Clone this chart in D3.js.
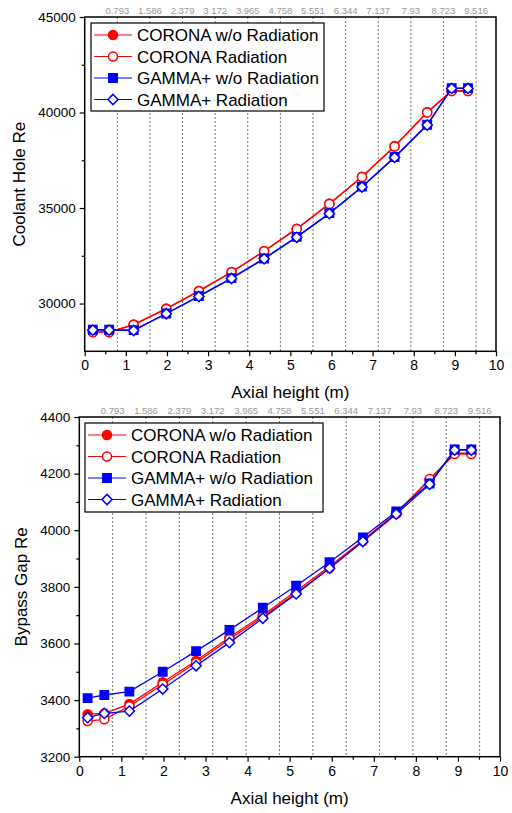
<!doctype html>
<html>
<head>
<meta charset="utf-8">
<title>Re vs axial height</title>
<script src="https://cdnjs.cloudflare.com/ajax/libs/d3/7.8.5/d3.min.js"></script>
<style>
    body { margin: 0; background: #fff; }
    svg text { font-family: "Liberation Sans", Arial, sans-serif; fill: #000; }
    .frame { fill: none; stroke: #000; stroke-width: 1.5; }
    .axis path, .axis line { stroke: #000; stroke-width: 1.2; }
    .vline { stroke: #777; stroke-width: 1; stroke-dasharray: 2, 2; }
    .blockLabel { fill: #999 !important; font-size: 9.5px; }
</style>
</head>
<body>
<svg id="chart" width="512" height="813"></svg>
<script>
// Axial positions of the points (m)
var axialX = [0.198, 0.595, 1.190, 1.983, 2.776, 3.569, 4.362, 5.155, 5.948, 6.741, 7.534, 8.327, 8.922, 9.318];

// Block boundaries (dashed lines + labels along the top)
var blockEdges = [0.793, 1.586, 2.379, 3.172, 3.965, 4.758, 5.551, 6.344, 7.137, 7.93, 8.723, 9.516];

var seriesNames = ["CORONA w/o Radiation", "CORONA Radiation", "GAMMA+ w/o Radiation", "GAMMA+ Radiation"];

// Coolant hole Re
var coolantCoronaNoRad = [28520, 28520, 28900, 29740, 30660, 31650, 32750, 33920, 35230, 36640, 38240, 40020, 41140, 41140];
var coolantCoronaRad   = [28500, 28500, 28885, 29720, 30643, 31636, 32737, 33907, 35213, 36624, 38223, 40000, 41120, 41120];
var coolantGammaNoRad  = [28630, 28630, 28610, 29480, 30390, 31330, 32360, 33490, 34730, 36120, 37670, 39360, 41280, 41280];
var coolantGammaRad    = [28610, 28610, 28590, 29465, 30370, 31310, 32340, 33468, 34707, 36102, 37648, 39341, 41260, 41260];

// Bypass gap Re
var bypassCoronaNoRad = [3350, 3353, 3386, 3463, 3539, 3622, 3700, 3785, 3872, 3965, 4062, 4178, 4272, 4272];
var bypassCoronaRad   = [3326, 3332, 3378, 3455, 3532, 3615, 3694, 3778, 3866, 3962, 4058, 4181, 4269, 4269];
var bypassGammaNoRad  = [3407, 3418, 3430, 3500, 3573, 3648, 3726, 3804, 3887, 3975, 4066, 4165, 4285, 4285];
var bypassGammaRad    = [3338, 3353, 3361, 3439, 3521, 3603, 3689, 3775, 3866, 3960, 4057, 4162, 4283, 4283];

var xTicks = [0, 1, 2, 3, 4, 5, 6, 7, 8, 9, 10];
var coolantTicks = [30000, 35000, 40000, 45000];
var bypassTicks = [3200, 3400, 3600, 3800, 4000, 4200, 4400];

var svg = d3.select("#chart");

// marker styles per series: color, symbol, filled, rotation
var styles = [
    { color: "#ff0000", symbol: d3.symbolCircle, size: 64, fill: true, rot: 0 },
    { color: "#ff0000", symbol: d3.symbolCircle, size: 64, fill: false, rot: 0 },
    { color: "#0000ff", symbol: d3.symbolSquare, size: 70, fill: true, rot: 0 },
    { color: "#0000ff", symbol: d3.symbolSquare, size: 52, fill: false, rot: 45 }
];

function drawPanel(opt) {
    var g = svg.append("g");
    var x = d3.scaleLinear().domain([0, 10]).range([opt.left, opt.right]);
    var y = d3.scaleLinear().domain(opt.yDomain).range([opt.bottom, opt.top]);

    // dashed block lines
    g.selectAll(".vline").data(blockEdges).enter().append("line")
        .attr("class", "vline")
        .attr("x1", function(d) { return x(d); })
        .attr("x2", function(d) { return x(d); })
        .attr("y1", opt.top)
        .attr("y2", opt.bottom);

    // block labels above the frame
    g.selectAll(".blockLabel").data(blockEdges).enter().append("text")
        .attr("class", "blockLabel")
        .attr("x", function(d) { return x(d); })
        .attr("y", opt.top - 3)
        .attr("text-anchor", "middle")
        .text(function(d) { return d; });

    // x axis
    var xAxis = d3.axisBottom(x).tickValues(xTicks).tickSize(5).tickPadding(4).tickFormat(d3.format("d"));
    var xg = g.append("g").attr("class", "axis").attr("transform", "translate(0," + opt.bottom + ")").call(xAxis);
    xg.select(".domain").remove();
    xg.selectAll("text").style("font-size", "14px");
    var xMinor = d3.axisBottom(x).tickValues(d3.range(0.5, 10, 1)).tickSize(3).tickFormat("");
    var xm = g.append("g").attr("class", "axis").attr("transform", "translate(0," + opt.bottom + ")").call(xMinor);
    xm.select(".domain").remove();

    // y axis
    var yAxis = d3.axisLeft(y).tickValues(opt.yTicks).tickSize(5).tickPadding(4).tickFormat(d3.format("d"));
    var yg = g.append("g").attr("class", "axis").attr("transform", "translate(" + opt.left + ",0)").call(yAxis);
    yg.select(".domain").remove();
    yg.selectAll("text").style("font-size", "13.5px");
    var yMinor = d3.axisLeft(y).tickValues(opt.yMinor).tickSize(3).tickFormat("");
    var ym = g.append("g").attr("class", "axis").attr("transform", "translate(" + opt.left + ",0)").call(yMinor);
    ym.select(".domain").remove();

    // frame
    g.append("rect").attr("class", "frame")
        .attr("x", opt.left).attr("y", opt.top)
        .attr("width", opt.right - opt.left).attr("height", opt.bottom - opt.top);

    // axis titles
    g.append("text")
        .attr("x", (opt.left + opt.right) / 2)
        .attr("y", opt.bottom + 47)
        .attr("text-anchor", "middle")
        .style("font-size", "17px")
        .text("Axial height (m)");
    g.append("text")
        .attr("transform", "translate(" + opt.titleX + "," + ((opt.top + opt.bottom) / 2) + ") rotate(-90)")
        .attr("text-anchor", "middle")
        .style("font-size", "17px")
        .text(opt.yTitle);

    // series
    var line = d3.line()
        .x(function(d) { return x(d[0]); })
        .y(function(d) { return y(d[1]); });

    opt.series.forEach(function(vals, i) {
        var st = styles[i];
        var pts = axialX.map(function(xv, j) { return [xv, vals[j]]; });
        g.append("path").datum(pts)
            .attr("fill", "none")
            .attr("stroke", st.color)
            .attr("stroke-width", 1.3)
            .attr("d", line);
        g.selectAll(".m" + i).data(pts).enter().append("path")
            .attr("d", d3.symbol().type(st.symbol).size(st.size))
            .attr("transform", function(d) { return "translate(" + x(d[0]) + "," + y(d[1]) + ") rotate(" + st.rot + ")"; })
            .attr("fill", st.fill ? st.color : "#fff")
            .attr("stroke", st.color)
            .attr("stroke-width", 1.5);
    });

    // legend
    var lg = g.append("g");
    lg.append("rect")
        .attr("x", opt.legend.x).attr("y", opt.legend.y)
        .attr("width", opt.legend.w).attr("height", opt.legend.h)
        .attr("fill", "#fff").attr("stroke", "#000").attr("stroke-width", 1.2);
    seriesNames.forEach(function(name, i) {
        var st = styles[i];
        var cy = opt.legend.y + 12 + i * 21.5;
        var lx = opt.legend.x + 3;
        lg.append("line")
            .attr("x1", lx).attr("x2", lx + 38)
            .attr("y1", cy).attr("y2", cy)
            .attr("stroke", st.color).attr("stroke-width", 1.2);
        lg.append("path")
            .attr("d", d3.symbol().type(st.symbol).size(st.size))
            .attr("transform", "translate(" + (lx + 19) + "," + cy + ") rotate(" + st.rot + ")")
            .attr("fill", st.fill ? st.color : "#fff")
            .attr("stroke", st.color)
            .attr("stroke-width", 1.5);
        lg.append("text")
            .attr("x", lx + 43)
            .attr("y", cy + 6)
            .style("font-size", "17px")
            .text(name);
    });
}

drawPanel({
    left: 84.7, right: 496, top: 17, bottom: 351.3,
    yDomain: [27500, 45000],
    yTicks: coolantTicks,
    yMinor: [32500, 37500, 42500],
    yTitle: "Coolant Hole Re",
    titleX: 25,
    series: [coolantCoronaNoRad, coolantCoronaRad, coolantGammaNoRad, coolantGammaRad],
    legend: { x: 91, y: 23, w: 233, h: 88 }
});

drawPanel({
    left: 79.3, right: 500, top: 417, bottom: 756.7,
    yDomain: [3200, 4400],
    yTicks: bypassTicks,
    yMinor: [3300, 3500, 3700, 3900, 4100, 4300],
    yTitle: "Bypass Gap Re",
    titleX: 27,
    series: [bypassCoronaNoRad, bypassCoronaRad, bypassGammaNoRad, bypassGammaRad],
    legend: { x: 85, y: 423, w: 238, h: 89 }
});
</script>
</body>
</html>
